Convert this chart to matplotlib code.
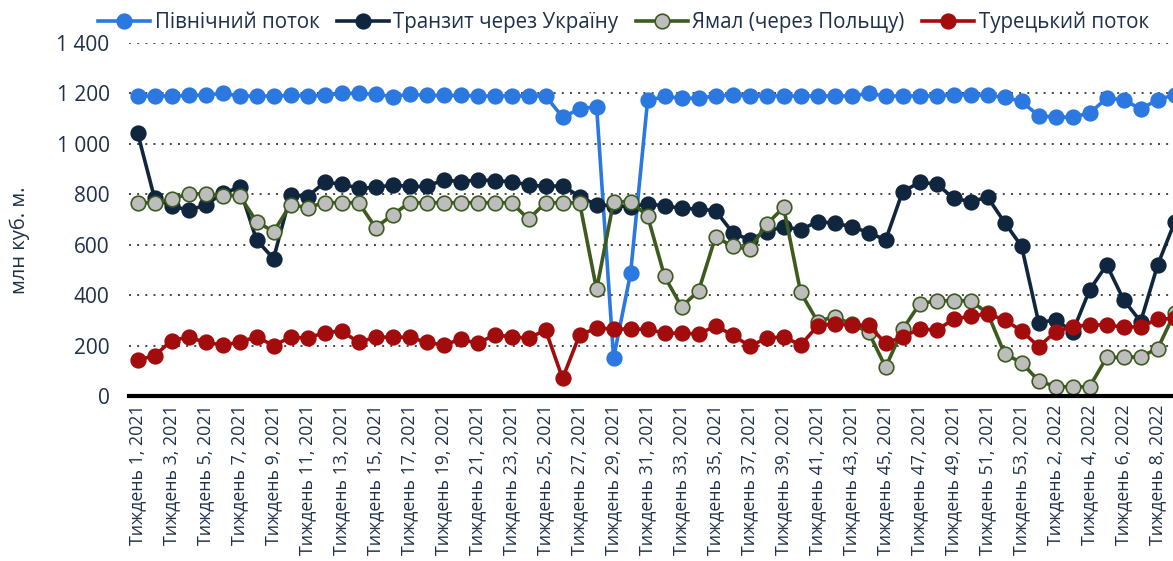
"""
Weekly Russian gas flows to Europe by route, 2021 - early 2022.
"""

import matplotlib
matplotlib.use("Agg")
import matplotlib.pyplot as plt
from matplotlib.ticker import FuncFormatter, FixedLocator

plt.rcParams["font.family"] = ["Open Sans", "DejaVu Sans"]

TEXT_COLOR = "#1f3049"

# ============================================================
# DATA (млн куб. м. per week)
# ============================================================

WEEKS = ([f"Тиждень {w}, 2021" for w in range(1, 54)]
         + [f"Тиждень {w}, 2022" for w in range(1, 10)])

NORD_STREAM = [
    1190, 1190, 1190, 1192, 1194, 1200, 1190, 1190, 1190, 1192,
    1190, 1192, 1200, 1200, 1197, 1187, 1197, 1192, 1192, 1192,
    1190, 1190, 1190, 1190, 1190, 1106, 1138, 1148, 151, 487,
    1172, 1188, 1181, 1181, 1190, 1194, 1190, 1190, 1190, 1190,
    1190, 1190, 1190, 1200, 1190, 1190, 1190, 1190, 1194, 1194,
    1192, 1185, 1168, 1111, 1106, 1106, 1122, 1181, 1175, 1138,
    1175, 1195,
]

UKRAINE_TRANSIT = [
    1045, 785, 754, 737, 757, 804, 827, 619, 545, 798,
    791, 847, 841, 824, 827, 837, 831, 831, 857, 850,
    857, 854, 850, 837, 831, 834, 791, 758, 755, 751,
    762, 754, 745, 741, 735, 648, 619, 652, 672, 659,
    692, 685, 672, 648, 619, 811, 847, 841, 784, 771,
    788, 688, 593, 291, 302, 255, 421, 520, 381, 295,
    520, 690,
]

YAMAL = [
    767, 767, 780, 802, 802, 795, 795, 692, 652, 758,
    747, 767, 767, 767, 668, 718, 767, 767, 767, 767,
    767, 767, 767, 701, 767, 767, 767, 423, 771, 771,
    714, 474, 354, 417, 632, 593, 582, 681, 748, 411,
    295, 315, 285, 253, 114, 265, 365, 378, 378, 378,
    328, 167, 132, 60, 37, 37, 37, 153, 153, 156,
    188, 330,
]

TURK_STREAM = [
    143, 159, 220, 233, 213, 202, 213, 235, 200, 233,
    230, 251, 258, 213, 233, 233, 233, 213, 202, 225,
    209, 242, 235, 229, 262, 70, 242, 269, 266, 265,
    265, 249, 249, 246, 278, 242, 198, 229, 235, 202,
    278, 286, 282, 280, 209, 235, 265, 262, 304, 317,
    325, 302, 258, 196, 255, 275, 282, 282, 273, 275,
    304, 308,
]

SERIES = [
    ("Північний поток", NORD_STREAM, "#2b78e0", "#2b78e0"),
    ("Транзит через Україну", UKRAINE_TRANSIT, "#10263f", "#10263f"),
    ("Ямал (через Польщу)", YAMAL, "#3d5b1f", "#bdbdbd"),
    ("Турецький поток", TURK_STREAM, "#a30c0c", "#a30c0c"),
]

# ============================================================
# PLOT
# ============================================================

fig = plt.figure(figsize=(11.73, 5.61), dpi=100)
ax = fig.add_axes([129 / 1173, 1 - 396 / 561, 1 - 129 / 1173, 353 / 561])

x = list(range(len(WEEKS)))
for label, values, line_color, face_color in SERIES:
    ax.plot(x, values, color=line_color, linewidth=2.6, marker="o",
            markersize=10.5, markerfacecolor=face_color,
            markeredgecolor=line_color, markeredgewidth=1.2,
            label=label)

ax.set_xlim(-0.5, 60.9)
ax.set_ylim(0, 1400)

ax.yaxis.set_major_locator(FixedLocator(range(0, 1401, 200)))
ax.yaxis.set_major_formatter(
    FuncFormatter(lambda v, _: f"{v:,.0f}".replace(",", " ")))
ax.grid(axis="y", color="#444444", linestyle=(0, (1, 3.2)), linewidth=1.4)
ax.set_axisbelow(True)

ax.set_xticks(x[::2])
ax.set_xticklabels(WEEKS[::2], rotation=90, fontsize=12.8, color=TEXT_COLOR)
ax.tick_params(axis="x", length=0, pad=6)
ax.tick_params(axis="y", length=0, pad=14, labelsize=15,
               labelcolor=TEXT_COLOR)

for side in ["top", "right", "left"]:
    ax.spines[side].set_visible(False)
ax.spines["bottom"].set_color("black")
ax.spines["bottom"].set_linewidth(3)

ax.set_ylabel("млн куб. м.", fontsize=14.5, color=TEXT_COLOR)
ax.yaxis.set_label_coords(-0.0945, 0.44)

fig.legend(loc="center left", bbox_to_anchor=(98 / 1173, 1 - 22 / 561),
           ncol=4, frameon=False, fontsize=14.8, handlelength=2.55,
           handletextpad=0.2, columnspacing=0.85, borderpad=0,
           borderaxespad=0, labelcolor=TEXT_COLOR)

fig.savefig("out.png", dpi=100)
